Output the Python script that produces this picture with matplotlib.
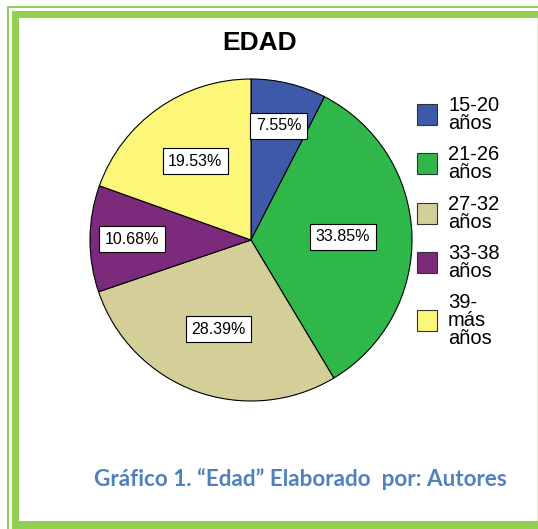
import matplotlib.pyplot as plt
from matplotlib.patches import Rectangle
import numpy as np

# ---- data ----
categories = ["15-20\naños", "21-26\naños", "27-32\naños", "33-38\naños", "39-\nmás\naños"]
percents = [7.55, 33.85, 28.39, 10.68, 19.53]
colors = ["#3F59A9", "#2FB74A", "#D4CE98", "#7C2A7C", "#FCF679"]
title = "EDAD"
caption = "Gráfico 1. “Edad” Elaborado  por: Autores"

W, H = 538, 529
fig = plt.figure(figsize=(W / 100, H / 100), dpi=100)
fig.patch.set_facecolor("white")


def px_rect(x, y, w, h, **kw):
    # rectangle given in pixels from the top-left corner
    r = Rectangle((x / W, 1 - (y + h) / H), w / W, h / H,
                  transform=fig.transFigure, **kw)
    fig.add_artist(r)


green = "#92D050"
# outer thin frame
px_rect(7, 6, 2, H - 6, facecolor=green, edgecolor="none")
px_rect(7, 6, W - 7, 1.6, facecolor=green, edgecolor="none")
# inner thick frame
px_rect(12, 11, 7, H - 11, facecolor=green, edgecolor="none")
px_rect(12, 11, W - 12, 7, facecolor=green, edgecolor="none")
px_rect(12, 521, W - 12, 8, facecolor=green, edgecolor="none")
px_rect(536.5, 18, 1, 503, facecolor="#E6EBDD", edgecolor="none")

# ---- pie ----
cx, cy, R = 251, 240, 161
ax = fig.add_axes([(cx - R) / W, (H - cy - R) / H, 2 * R / W, 2 * R / H])
wedges, _ = ax.pie(percents, colors=colors, startangle=90, counterclock=False,
                   wedgeprops=dict(edgecolor="black", linewidth=0.8, clip_on=False))
ax.set_xlim(-1, 1)
ax.set_ylim(-1, 1)
ax.set_aspect("equal")
ax.axis("off")

label_r = [0.73, 0.57, 0.59, 0.74, 0.60]
for w, p, lr in zip(wedges, percents, label_r):
    ang = np.deg2rad((w.theta1 + w.theta2) / 2)
    ax.text(lr * np.cos(ang), lr * np.sin(ang), f"{p:.2f}%",
            ha="center", va="center", fontsize=11.5, family="Liberation Sans",
            bbox=dict(boxstyle="square,pad=0.35", facecolor="white",
                      edgecolor="black", linewidth=0.8))

fig.text(260 / W, 1 - 43 / H, title, ha="center", va="center",
         fontsize=19, fontweight="bold", family="Liberation Sans")

# ---- legend ----
row_top = [96, 145, 195, 244, 293]
for lab, c, top in zip(categories, colors, row_top):
    nlines = lab.count("\n") + 1
    block_h = 18.5 * nlines
    mid = top + block_h / 2
    px_rect(417, mid - 10.5, 20, 21, facecolor=c, edgecolor="#333333", linewidth=0.8)
    fig.text(448 / W, 1 - top / H, lab, ha="left", va="top", fontsize=14.5,
             family="Liberation Sans", linespacing=0.92)

fig.text(300 / W, 1 - 479 / H, caption, ha="center", va="center",
         fontsize=16.2, fontweight="bold", family="Lato", color="#4F81BD")

fig.savefig("out.png", dpi=100)
